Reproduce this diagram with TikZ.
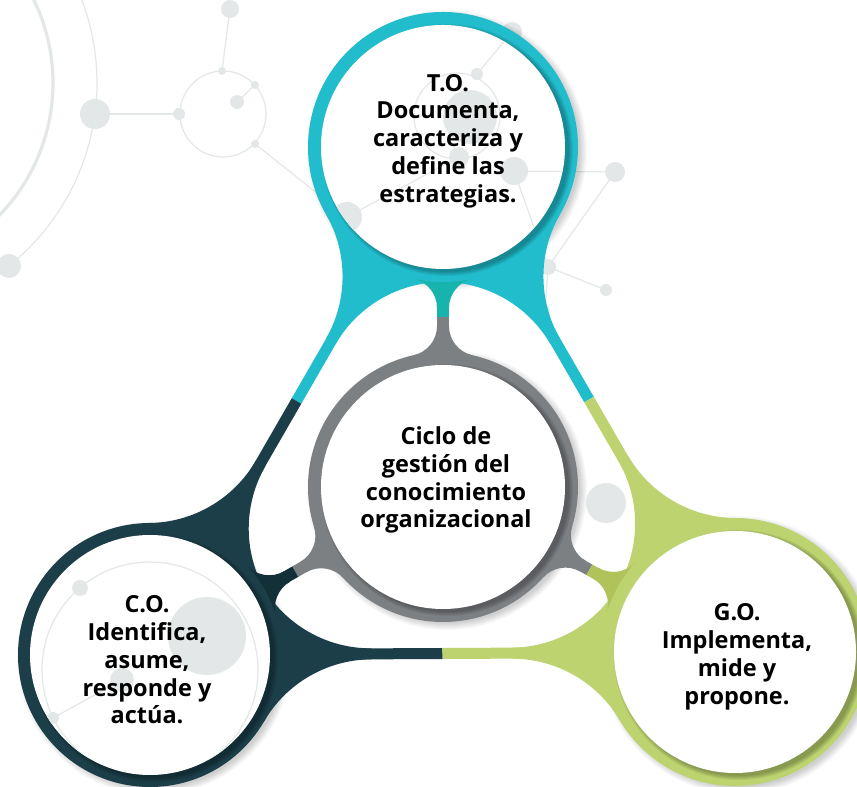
\documentclass[tikz,border=0pt]{standalone}
\usepackage{fontspec}
\setmainfont{Open Sans}
\usetikzlibrary{calc}

\definecolor{cTeal}{RGB}{33,189,205}
\definecolor{cTealB}{RGB}{22,180,172}
\definecolor{cDark}{RGB}{28,62,72}
\definecolor{cDarkB}{RGB}{19,47,55}
\definecolor{cGreen}{RGB}{188,211,111}
\definecolor{cGreenB}{RGB}{176,195,90}
\definecolor{cGray}{RGB}{125,128,131}
\definecolor{cNet}{RGB}{228,231,231}

% Concave flare joining a straight band to a circle.
% #1 circle centre, #2 circle radius, #3 band direction, #4 band half width,
% #5 flare radius, #6 side (1 or -1), #7 colour
\newcommand\flare[7]{%
  \pgfmathsetmacro\fs{100*sqrt(((#2+#5)/100)^2-((#4+#5)/100)^2)}%
  \pgfmathsetmacro\fa{atan((#4+#5)/\fs)}%
  \pgfmathsetmacro\fb{atan(#4/\fs)}%
  \pgfmathsetmacro\fr{\fs/cos(\fb)}%
  \pgfmathsetmacro\ft{#3+(#6)*\fb}%
  \pgfmathsetmacro\fst{#3+(#6)*90+180}%
  \pgfmathsetmacro\fd{-(#6)*(90-\fa)}%
  \fill[#7] (#1) -- ++(#3:\fs) -- ($(#1)+(\ft:\fr)$)
    arc[start angle=\fst, delta angle=\fd, radius=#5] -- cycle;
}

% Faint network drawn behind the rings
\newcommand\bgnetwork{%
  \draw[cNet, line width=3.2pt] ($(A0)+(40:190)$) arc[start angle=40, end angle=-60, radius=190];
  \draw[net] ($(A0)+(30:234)$) arc[start angle=30, end angle=-51.4, radius=234];
  \draw[net] (c1) circle (43);
  \draw[net] (c2) circle (43);
  \draw[net] (c3) circle (108);
  \draw[net] (n1) -- (n3);
  \draw[net] (n4) -- (n8);
  \draw[net] (n5) -- (n6);
  \draw[net] (n7) -- (n9);
  \draw[net] (n9) -- (n13);
  \draw[net] (n10) -- (n11);
  \draw[net] (n14) -- (n15);
  \draw[net] (n15) -- (n16);
  \draw[net] (n16) -- (n17);
  \draw[net] (n14) -- (n16);
  \draw[net] (n16) -- (n18);
  \draw[net] (n23) -- (n22);
  \foreach \p/\r in {n1/15,n2/12,n3/6,n4/4,n5/4,n6/7,n7/4,n8/9,n9/15,
                     n10/10,n11/6,n12/27,n13/10,n14/14,n15/10,n16/8,n17/6,n18/5,
                     n19/20,n20/39,n21/8,n22/12,n23/6}
    \fill[cNet] (\p) circle (\r);
}

\begin{document}
\begin{tikzpicture}[x=1pt,y=1pt,
  lbl/.style={align=center, inner sep=0pt, text=black,
              font=\bfseries\fontsize{23.5}{27.8}\selectfont},
  net/.style={draw=cNet, line width=1.2pt}]
\useasboundingbox (0,0) rectangle (857,787);
\clip (0,0) rectangle (857,787);
\fill[white] (0,0) rectangle (857,787);

% circle centres
\coordinate (T) at (443,640);
\coordinate (M) at (443,300);
\coordinate (L) at (150,132);
\coordinate (G) at (735,135);
% colour changes along bands and spokes
\coordinate (mTL) at ($(T)!0.5!(L)$);
\coordinate (mTG) at ($(T)!0.5!(G)$);
\coordinate (mLG) at ($(L)!0.5!(G)$);
\coordinate (sT) at (443,470);
\coordinate (sL) at (295.2,215.3);
\coordinate (sG) at (589.4,217.2);

% network points
\coordinate (A0) at (-137,704);
\coordinate (n1) at (95,673);
\coordinate (n2) at (9,521);
\coordinate (n3) at (179,673);
\coordinate (c1) at (223,673);
\coordinate (n4) at (222,716);
\coordinate (n5) at (255,702);
\coordinate (n6) at (237,685);
\coordinate (n7) at (255,643);
\coordinate (n8) at (230,778);
\coordinate (n9) at (347,570);
\coordinate (n10) at (512,755);
\coordinate (n11) at (477,713);
\coordinate (c2) at (457,671);
\coordinate (n12) at (470,670);
\coordinate (n13) at (459,630);
\coordinate (n14) at (514,616);
\coordinate (n15) at (615,615);
\coordinate (n16) at (548,520);
\coordinate (n17) at (606,497);
\coordinate (n18) at (545,477);
\coordinate (n19) at (606,284);
\coordinate (c3) at (150,117);
\coordinate (n20) at (207,151);
\coordinate (n21) at (80,199);
\coordinate (n22) at (122,107);
\coordinate (n23) at (53,69);

\bgnetwork

% soft drop shadows of the rings
\foreach \c/\r in {T/135,M/135,L/132,G/134}{
  \foreach \k in {0,...,7}{
    \fill[black,opacity=0.024] ($(\c)+(4,-3)$) circle ({\r-2+\k});
  }
}

% flares of the outer triangle
\foreach \s in {1,-1}{
  \flare{T}{135}{240}{5.5}{125}{\s}{cTeal}
  \flare{T}{135}{300}{5.5}{125}{\s}{cTeal}
  \flare{L}{132}{60}{5.5}{125}{\s}{cDark}
  \flare{L}{132}{0.3}{5.5}{125}{\s}{cDark}
  \flare{G}{134}{120}{5.5}{125}{\s}{cGreen}
  \flare{G}{134}{180.3}{5.5}{125}{\s}{cGreen}
}
% outer triangle bands
\draw[cTeal, line width=11pt] (T) -- (mTL);
\draw[cDark, line width=11pt] (mTL) -- (L);
\draw[cTeal, line width=11pt] (T) -- (mTG);
\draw[cGreen, line width=11pt] (mTG) -- (G);
\draw[cDark, line width=11pt] (L) -- (mLG);
\draw[cGreen, line width=11pt] (mLG) -- (G);

% flares of the spokes
\foreach \s in {1,-1}{
  \flare{T}{135}{270}{6}{30}{\s}{cTealB}
  \flare{L}{132}{29.8}{6}{30}{\s}{cDarkB}
  \flare{G}{134}{150.5}{6}{30}{\s}{cGreenB}
  \flare{M}{135}{90}{6}{30}{\s}{cGray}
  \flare{M}{135}{209.8}{6}{30}{\s}{cGray}
  \flare{M}{135}{330.5}{6}{30}{\s}{cGray}
}
% spokes
\draw[cGray, line width=12pt] (M) -- (sT);
\draw[cTealB, line width=12pt] (sT) -- (T);
\draw[cGray, line width=12pt] (M) -- (sL);
\draw[cDarkB, line width=12pt] (sL) -- (L);
\draw[cGray, line width=12pt] (M) -- (sG);
\draw[cGreenB, line width=12pt] (sG) -- (G);

% rings
\fill[cTeal] (T) circle (135);
\fill[cGray] (M) circle (135);
\fill[cDark] (L) circle (132);
\fill[cGreen] (G) circle (134);

% inner shading and white faces
\foreach \c/\R/\r in {T/135/122,M/135/122,L/132/120,G/134/121}{
  \begin{scope}
    \clip (\c) circle (\R);
    \foreach \k in {0,...,4}
      \fill[black,opacity=0.06] ($(\c)+(4,-3)$) circle ({\r+\k});
  \end{scope}
  \fill[white] (\c) circle (\r);
}

% network seen through the faces
\begin{scope}
  \clip (T) circle (122) (M) circle (122) (L) circle (120) (G) circle (121);
  \bgnetwork
\end{scope}

% labels
\node[lbl] (tT) at (448,646) {T.O.\\Documenta,\\caracteriza y\\define las\\estrategias.};
\node[lbl] (tM) at (446,307) {Ciclo de\\gestión del\\conocimiento\\organizacional};
\node[lbl] (tL) at (147,127) {C.O.\\Identifica,\\asume,\\responde y\\actúa.};
\node[lbl] (tG) at (737,130) {G.O.\\Implementa,\\mide y\\propone.};
\end{tikzpicture}
\end{document}
